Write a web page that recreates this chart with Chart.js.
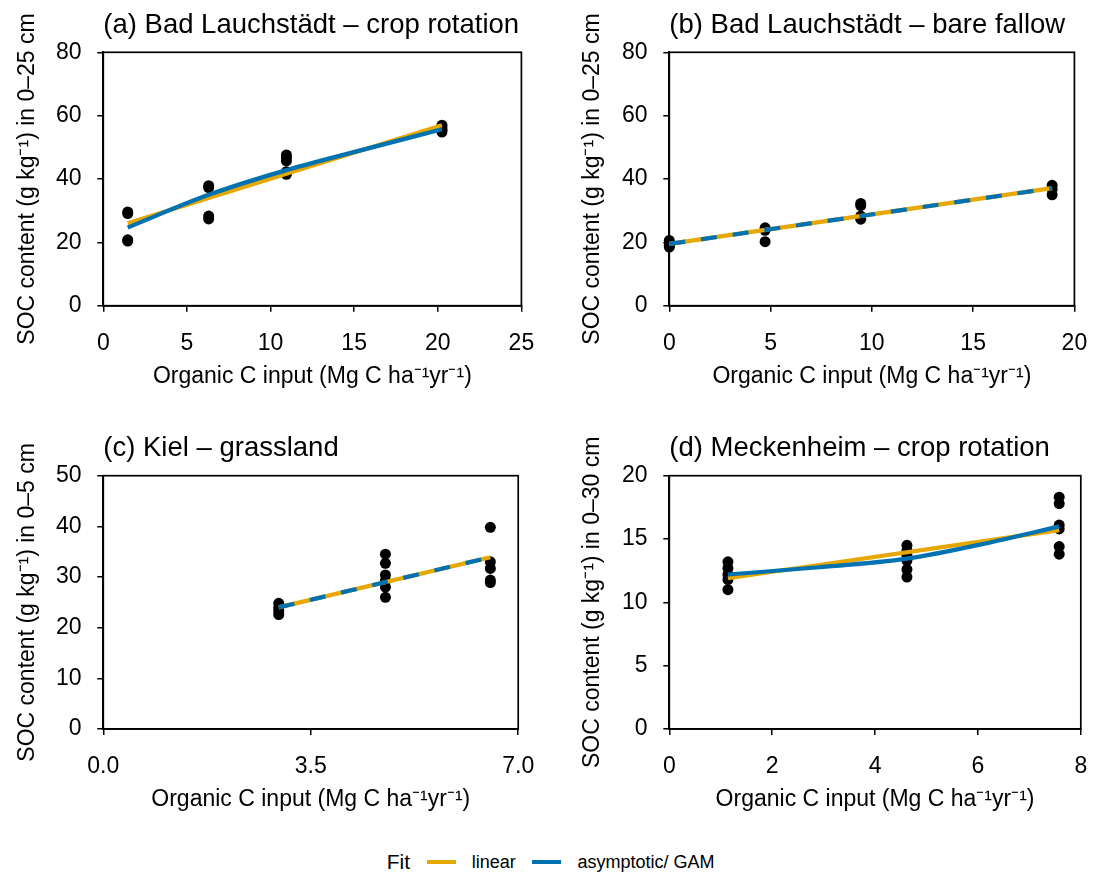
<!DOCTYPE html>
<html><head><meta charset="utf-8">
<script src="https://cdn.jsdelivr.net/npm/chart.js@4.4.1/dist/chart.umd.min.js"></script>
<style>
html,body{margin:0;padding:0;background:#fff;}
#wrap{position:relative;width:1105px;height:872px;overflow:hidden;font-family:"Liberation Sans",Arial,sans-serif;}
canvas{position:absolute;}
#legend{position:absolute;left:386.7px;top:848px;height:28px;display:flex;align-items:center;color:#000;white-space:nowrap;}
#legend .sw{display:inline-block;width:29px;height:4px;}
</style></head><body>
<div id="wrap">
<canvas id="cA" width="552" height="410" style="left:0;top:0"></canvas>
<canvas id="cB" width="553" height="410" style="left:552px;top:0"></canvas>
<canvas id="cC" width="552" height="420" style="left:0;top:410px"></canvas>
<canvas id="cD" width="553" height="420" style="left:552px;top:410px"></canvas>
<div id="legend"></div>
</div>
<script>
// ---------- data ----------
const fitNames = ['linear', 'asymptotic/ GAM'];
const fitColors = ['#E6A800', '#0072B2'];
const xTitle = 'Organic C input (Mg C ha\u207B\u00B9yr\u207B\u00B9)';

// (a) Bad Lauchstädt – crop rotation
const aTitle = '(a) Bad Lauchstädt – crop rotation';
const aYTitle = 'SOC content (g kg\u207B\u00B9) in 0–25 cm';
const aXTicks = [0, 5, 10, 15, 20, 25];
const aXTickLabels = ['0', '5', '10', '15', '20', '25'];
const aYTicks = [0, 20, 40, 60, 80];
const aYTickLabels = ['0', '20', '40', '60', '80'];
const aObsX = [1.46, 1.46, 1.46, 1.46, 6.3, 6.3, 6.3, 6.3, 10.95, 10.95, 10.95, 10.95, 10.95, 20.25, 20.25, 20.25, 20.25];
const aObsY = [29.6, 29.1, 20.8, 20.4, 37.9, 37.3, 28.3, 27.4, 47.6, 46.6, 45.7, 42.3, 41.5, 57.0, 56.2, 55.4, 54.8];
const aLinX = [1.46, 20.25];
const aLinY = [26.0, 57.0];
const aGamX = [1.46, 6.3, 10.95, 15.5, 20.25];
const aGamY = [24.7, 35.0, 42.8, 49.2, 55.7];

// (b) Bad Lauchstädt – bare fallow
const bTitle = '(b) Bad Lauchstädt – bare fallow';
const bYTitle = 'SOC content (g kg\u207B\u00B9) in 0–25 cm';
const bXTicks = [0, 5, 10, 15, 20];
const bXTickLabels = ['0', '5', '10', '15', '20'];
const bYTicks = [0, 20, 40, 60, 80];
const bYTickLabels = ['0', '20', '40', '60', '80'];
const bObsX = [0, 0, 0, 0, 4.73, 4.73, 4.73, 9.45, 9.45, 9.45, 9.45, 18.9, 18.9, 18.9];
const bObsY = [20.6, 19.8, 19.0, 18.5, 24.6, 23.8, 20.2, 32.3, 31.6, 28.3, 27.3, 38.0, 36.8, 35.0];
const bLinX = [0, 18.9];
const bLinY = [19.5, 37.1];
const bGamX = [0, 18.9];
const bGamY = [19.5, 37.1];

// (c) Kiel – grassland
const cTitle = '(c) Kiel – grassland';
const cYTitle = 'SOC content (g kg\u207B\u00B9) in 0–5 cm';
const cXTicks = [0, 3.5, 7];
const cXTickLabels = ['0.0', '3.5', '7.0'];
const cYTicks = [0, 10, 20, 30, 40, 50];
const cYTickLabels = ['0', '10', '20', '30', '40', '50'];
const cObsX = [2.96, 2.96, 2.96, 2.96, 4.76, 4.76, 4.76, 4.76, 4.76, 4.76, 6.53, 6.53, 6.53, 6.53, 6.53];
const cObsY = [24.8, 24.0, 23.3, 22.6, 34.5, 32.7, 30.4, 29.3, 28.0, 26.0, 39.8, 33.0, 31.7, 29.4, 28.9];
const cLinX = [2.96, 6.53];
const cLinY = [24.0, 33.9];
const cGamX = [2.96, 6.53];
const cGamY = [24.0, 33.9];

// (d) Meckenheim – crop rotation
const dTitle = '(d) Meckenheim – crop rotation';
const dYTitle = 'SOC content (g kg\u207B\u00B9) in 0–30 cm';
const dXTicks = [0, 2, 4, 6, 8];
const dXTickLabels = ['0', '2', '4', '6', '8'];
const dYTicks = [0, 5, 10, 15, 20];
const dYTickLabels = ['0', '5', '10', '15', '20'];
const dObsX = [1.14, 1.14, 1.14, 1.14, 1.14, 4.62, 4.62, 4.62, 4.62, 4.62, 4.62, 7.58, 7.58, 7.58, 7.58, 7.58, 7.58];
const dObsY = [13.2, 12.7, 12.2, 11.8, 11.0, 14.5, 14.1, 13.7, 13.3, 12.6, 12.0, 18.3, 17.8, 16.1, 15.8, 14.4, 13.8];
const dLinX = [1.14, 7.58];
const dLinY = [11.9, 15.7];
const dGamX = [1.14, 2.85, 4.62, 6.26, 7.58];
const dGamY = [12.2, 12.75, 13.45, 14.75, 16.0];

// ---------- drawing ----------
const FONT = '"Liberation Sans", Arial, Helvetica, sans-serif';
const pts = (xs, ys) => xs.map((x, i) => ({x: x, y: ys[i]}));

const framePlugin = {
  id: 'frame',
  beforeDatasetsDraw(chart) {
    const a = chart.chartArea, ctx = chart.ctx;
    ctx.save();
    ctx.strokeStyle = '#000';
    ctx.lineWidth = 1.7;
    ctx.strokeRect(a.left, a.top, a.right - a.left, a.bottom - a.top);
    ctx.restore();
  }
};

function panel(id, p) {
  const datasets = [
    {label: 'obs', data: pts(p.obsX, p.obsY), backgroundColor: '#000', borderColor: '#000',
     pointRadius: 5.5, pointBorderWidth: 0, showLine: false, order: 3, clip: false},
    {label: fitNames[0], data: pts(p.linX, p.linY), borderColor: fitColors[0], backgroundColor: fitColors[0],
     borderWidth: 4.2, pointRadius: 0, showLine: true, order: 2, clip: false, borderCapStyle: 'butt'},
    {label: fitNames[1], data: pts(p.gamX, p.gamY), borderColor: fitColors[1], backgroundColor: fitColors[1],
     borderWidth: 4.2, pointRadius: 0, showLine: true, order: 1, clip: false, borderCapStyle: 'butt',
     cubicInterpolationMode: 'monotone', borderDash: p.dashed ? [16, 16] : []}
  ];
  const axisCommon = {
    type: 'linear',
    grid: {display: true, drawOnChartArea: false, drawTicks: true, tickLength: 6, color: '#000', lineWidth: 1.5},
    border: {display: true, color: '#000', width: 1.7}
  };
  return new Chart(document.getElementById(id), {
    type: 'scatter',
    data: {datasets: datasets},
    plugins: [framePlugin],
    options: {
      responsive: false, animation: false, devicePixelRatio: 1,
      events: [],
      layout: {padding: {left: 0, top: 0, right: p.padRight, bottom: 0}},
      plugins: {
        legend: {display: false}, tooltip: {enabled: false},
        title: {display: true, text: p.title, align: 'start', fullSize: false, color: '#000',
                font: {family: FONT, size: 27.5, weight: 'normal', lineHeight: 1.2},
                padding: {top: p.titleTop, bottom: p.titleBottom}}
      },
      scales: {
        x: Object.assign({}, axisCommon, {
          position: 'bottom', min: p.xTicks[0], max: p.xTicks[p.xTicks.length - 1],
          afterBuildTicks: s => { s.ticks = p.xTicks.map(v => ({value: v})); },
          afterFit: s => { s.height = p.xHeight; },
          ticks: {autoSkip: false, maxRotation: 0, minRotation: 0, padding: 17.8, color: '#000',
                  font: {family: FONT, size: 23, lineHeight: 1.2},
                  callback: (v, i) => p.xTickLabels[i]},
          title: {display: true, text: xTitle, color: '#000',
                  font: {family: FONT, size: 23, lineHeight: 1.2},
                  padding: {top: 0, bottom: p.xTitleBottom}}
        }),
        y: Object.assign({}, axisCommon, {
          position: 'left', min: p.yTicks[0], max: p.yTicks[p.yTicks.length - 1],
          afterBuildTicks: s => { s.ticks = p.yTicks.map(v => ({value: v})); },
          afterFit: s => { s.width = p.yWidth; },
          ticks: {autoSkip: false, padding: 15.8, color: '#000',
                  font: {family: FONT, size: 23, lineHeight: 1.2},
                  callback: (v, i) => p.yTickLabels[i]},
          title: {display: true, text: p.yTitle, color: '#000',
                  font: {family: FONT, size: 23, lineHeight: 1.2},
                  padding: {top: p.yTitleTop, bottom: 0}}
        })
      }
    }
  });
}

panel('cA', {title: aTitle, yTitle: aYTitle, xTicks: aXTicks, xTickLabels: aXTickLabels, yTicks: aYTicks, yTickLabels: aYTickLabels,
  obsX: aObsX, obsY: aObsY, linX: aLinX, linY: aLinY, gamX: aGamX, gamY: aGamY, dashed: false,
  padRight: 30.3, yWidth: 103.3, yTitleTop: 13.4, titleTop: 8.5, titleBottom: 10.8, xHeight: 104.3, xTitleBottom: 19.5});
panel('cB', {title: bTitle, yTitle: bYTitle, xTicks: bXTicks, xTickLabels: bXTickLabels, yTicks: bYTicks, yTickLabels: bYTickLabels,
  obsX: bObsX, obsY: bObsY, linX: bLinX, linY: bLinY, gamX: bGamX, gamY: bGamY, dashed: true,
  padRight: 21.7, yWidth: 117.3, yTitleTop: 26.5, titleTop: 8.5, titleBottom: 10.8, xHeight: 104.3, xTitleBottom: 19.5});
panel('cC', {title: cTitle, yTitle: cYTitle, xTicks: cXTicks, xTickLabels: cXTickLabels, yTicks: cYTicks, yTickLabels: cYTickLabels,
  obsX: cObsX, obsY: cObsY, linX: cLinX, linY: cLinY, gamX: cGamX, gamY: cGamY, dashed: true,
  padRight: 30.3, yWidth: 103.3, yTitleTop: 13.4, titleTop: 21.8, titleBottom: 10.9, xHeight: 101, xTitleBottom: 16.2});
panel('cD', {title: dTitle, yTitle: dYTitle, xTicks: dXTicks, xTickLabels: dXTickLabels, yTicks: dYTicks, yTickLabels: dYTickLabels,
  obsX: dObsX, obsY: dObsY, linX: dLinX, linY: dLinY, gamX: dGamX, gamY: dGamY, dashed: false,
  padRight: 21.7, yWidth: 117.3, yTitleTop: 26.5, titleTop: 21.8, titleBottom: 10.9, xHeight: 101, xTitleBottom: 16.2});

// legend (HTML text)
const lg = document.getElementById('legend');
const fitLbl = document.createElement('span');
fitLbl.textContent = 'Fit';
fitLbl.style.cssText = 'font-size:21px;margin-right:16.7px;';
lg.appendChild(fitLbl);
fitNames.forEach((n, i) => {
  const sw = document.createElement('span');
  sw.className = 'sw';
  sw.style.background = fitColors[i];
  sw.style.marginRight = '16px';
  lg.appendChild(sw);
  const t = document.createElement('span');
  t.textContent = n;
  t.style.cssText = 'font-size:18px;' + (i === 0 ? 'margin-right:16.7px;' : '');
  lg.appendChild(t);
});
</script>
</body></html>
